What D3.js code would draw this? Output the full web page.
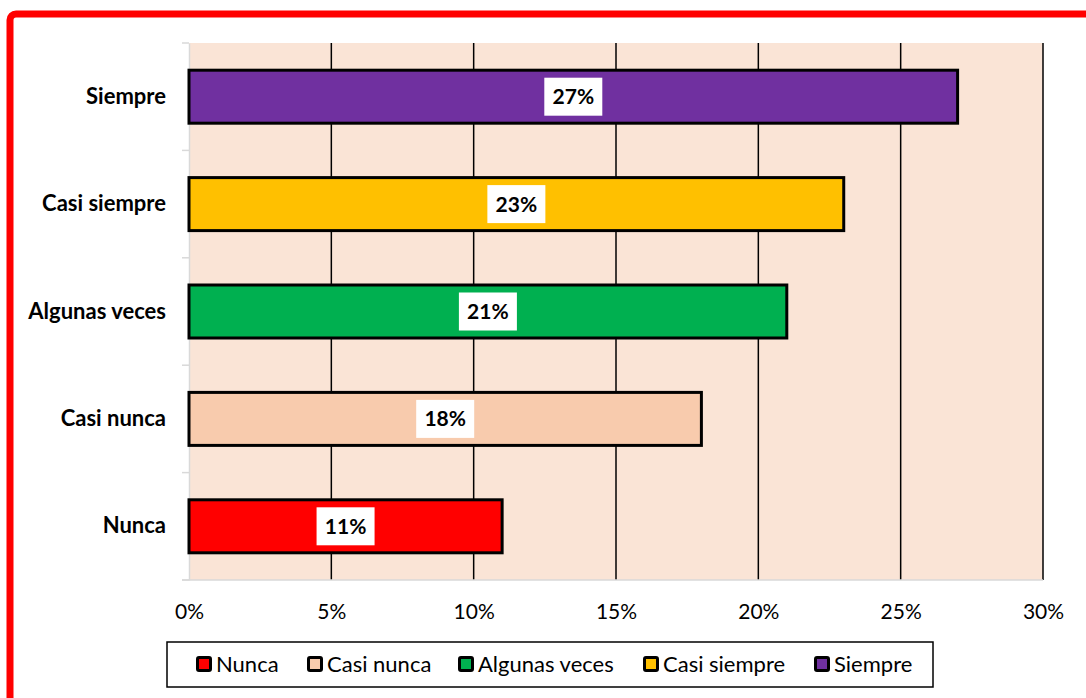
<!DOCTYPE html>
<html>
<head>
<meta charset="utf-8">
<script src="https://cdn.jsdelivr.net/npm/d3@7"></script>
<style>
  body { margin: 0; background: #fff; }
  svg { font-family: Lato, "Open Sans", sans-serif; }
</style>
</head>
<body>
<div id="chart"></div>
<script>
// datos del gráfico
const categorias = ["Nunca", "Casi nunca", "Algunas veces", "Casi siempre", "Siempre"];
const valores = [11, 18, 21, 23, 27];
const colores = ["#ff0000", "#f8cbad", "#00b050", "#ffc000", "#7030a0"];
const ticksX = [0, 5, 10, 15, 20, 25, 30];

const W = 1086, H = 698;
const margin = {top: 43, right: 43, bottom: 118, left: 189};
const width = W - margin.left - margin.right,
      height = H - margin.top - margin.bottom;

const svg = d3.select("#chart")
  .append("svg")
    .attr("width", W)
    .attr("height", H);

// marco rojo
svg.append("rect")
  .attr("x", 10).attr("y", 14)
  .attr("width", W + 20).attr("height", H + 20)
  .attr("rx", 6)
  .attr("fill", "none")
  .attr("stroke", "#ff0000")
  .attr("stroke-width", 7);

const g = svg.append("g")
  .attr("transform", `translate(${margin.left},${margin.top})`);

const x = d3.scaleLinear().domain([0, 30]).range([0, width]);
const y = d3.scaleBand().domain(categorias.slice().reverse()).range([0, height]);

// fondo del área
g.append("rect")
  .attr("width", width).attr("height", height)
  .attr("fill", "#fae4d6");

// líneas de la cuadrícula
g.selectAll(".grid")
  .data(ticksX.slice(1))
  .join("line")
    .attr("x1", d => x(d)).attr("x2", d => x(d))
    .attr("y1", 0).attr("y2", height)
    .attr("stroke", "#000").attr("stroke-width", 1.5);

// eje y
const yAxis = g.append("g")
  .call(d3.axisLeft(y).tickSize(0).tickFormat(d => d));
yAxis.select(".domain").attr("stroke", "#d9d9d9").attr("stroke-width", 1.5);
yAxis.selectAll("text")
  .attr("x", -23)
  .attr("font-size", 22).attr("font-weight", "bold")
  .attr("font-family", "Lato, sans-serif")
  .attr("fill", "#000");

// marcas entre categorías
const bordes = categorias.map((c, i) => y.step() * i).concat([height]);
g.selectAll(".ytick")
  .data(bordes)
  .join("line")
    .attr("x1", -7).attr("x2", 0)
    .attr("y1", d => d).attr("y2", d => d)
    .attr("stroke", "#d9d9d9").attr("stroke-width", 1.5);

// eje x
const xAxis = g.append("g")
  .attr("transform", `translate(0,${height})`)
  .call(d3.axisBottom(x).tickValues(ticksX).tickSize(0).tickFormat(d => d + "%"));
xAxis.select(".domain").remove();
g.append("line")
  .attr("x1", -7).attr("x2", width)
  .attr("y1", height).attr("y2", height)
  .attr("stroke", "#d9d9d9").attr("stroke-width", 1.5);
xAxis.selectAll("text")
  .attr("y", 24)
  .attr("font-size", 21)
  .attr("font-family", "Lato, sans-serif")
  .attr("fill", "#000");

// barras
const barH = 53;
g.selectAll(".bar")
  .data(categorias)
  .join("rect")
    .attr("x", x(0))
    .attr("y", d => y(d) + (y.bandwidth() - barH) / 2)
    .attr("width", (d, i) => x(valores[i]) - x(0))
    .attr("height", barH)
    .attr("fill", (d, i) => colores[i])
    .attr("stroke", "#000")
    .attr("stroke-width", 3);

// etiquetas de valor
const etiquetas = g.selectAll(".lab")
  .data(categorias)
  .join("g")
    .attr("transform", (d, i) => `translate(${x(valores[i] / 2)},${y(d) + y.bandwidth() / 2})`);
etiquetas.append("rect")
  .attr("x", -29).attr("y", -19)
  .attr("width", 58).attr("height", 38)
  .attr("fill", "#fff");
etiquetas.append("text")
  .attr("text-anchor", "middle")
  .attr("dy", "0.36em")
  .attr("font-size", 21).attr("font-weight", "bold")
  .text((d, i) => valores[i] + "%");

// leyenda
const leyenda = svg.append("g").attr("transform", "translate(167,642)");
leyenda.append("rect")
  .attr("width", 766).attr("height", 45)
  .attr("fill", "#fff").attr("stroke", "#000").attr("stroke-width", 1.5);
const posLeyenda = [29, 140, 291, 476, 647];
const items = leyenda.selectAll(".item")
  .data(categorias)
  .join("g")
    .attr("transform", (d, i) => `translate(${posLeyenda[i]},22)`);
items.append("rect")
  .attr("x", 1.5).attr("y", -6.5)
  .attr("width", 13).attr("height", 13)
  .attr("rx", 1.5)
  .attr("fill", (d, i) => colores[i])
  .attr("stroke", "#000").attr("stroke-width", 3);
items.append("text")
  .attr("x", 20)
  .attr("dy", "0.36em")
  .attr("font-size", 22)
  .text(d => d);
</script>
</body>
</html>
